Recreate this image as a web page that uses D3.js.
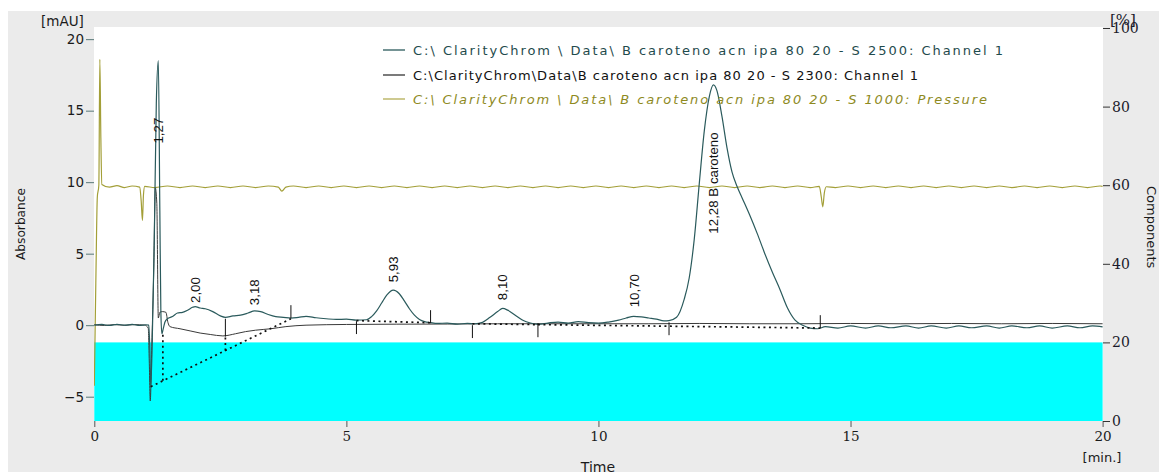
<!DOCTYPE html>
<html>
<head>
<meta charset="utf-8">
<script src="https://cdn.jsdelivr.net/npm/d3@7"></script>
<style>
  html, body { margin: 0; padding: 0; background: #ffffff; }
  svg { display: block; }
</style>
</head>
<body>
<svg id="chart" width="1159" height="472"></svg>
<script>
// ---- chromatogram data: [time (min), signal] ----
// S 2500, Channel 1 (mAU)
const ch2500 = [
  [0.00, 0.00], [0.15, 0.05], [0.30, -0.02], [0.45, 0.06], [0.60, 0.00], [0.75, 0.05],
  [0.90, -0.02], [1.02, 0.03], [1.08, 0.00], [1.10, -1.50], [1.12, -4.30], [1.15, -1.00],
  [1.19, 6.00], [1.23, 15.50], [1.27, 18.50], [1.30, 8.00], [1.32, 1.00], [1.34, -0.60],
  [1.37, -0.20], [1.40, 0.20], [1.45, 0.45], [1.55, 0.60], [1.65, 0.85], [1.75, 0.90],
  [1.85, 1.05], [1.95, 1.25], [2.00, 1.30], [2.10, 1.20], [2.20, 1.15], [2.35, 0.95],
  [2.50, 0.65], [2.60, 0.55], [2.75, 0.65], [2.90, 0.70], [3.05, 0.85], [3.18, 1.00],
  [3.30, 0.95], [3.45, 0.75], [3.60, 0.60], [3.75, 0.55], [3.90, 0.50], [4.05, 0.55],
  [4.20, 0.62], [4.40, 0.52], [4.60, 0.45], [4.80, 0.40], [5.00, 0.42], [5.20, 0.35],
  [5.40, 0.38], [5.50, 0.60], [5.60, 1.00], [5.70, 1.55], [5.80, 2.10], [5.93, 2.45],
  [6.05, 2.20], [6.15, 1.70], [6.25, 1.15], [6.35, 0.70], [6.45, 0.40], [6.55, 0.25],
  [6.67, 0.18], [6.80, 0.12], [7.00, 0.15], [7.20, 0.08], [7.40, 0.12], [7.55, 0.10],
  [7.70, 0.20], [7.85, 0.55], [8.00, 0.95], [8.10, 1.17], [8.20, 1.05], [8.35, 0.70],
  [8.50, 0.35], [8.65, 0.15], [8.80, 0.05], [9.00, 0.15], [9.20, 0.22], [9.40, 0.15],
  [9.60, 0.25], [9.80, 0.18], [10.00, 0.15], [10.20, 0.22], [10.40, 0.35], [10.55, 0.50],
  [10.70, 0.62], [10.85, 0.58], [11.00, 0.50], [11.15, 0.42], [11.30, 0.30], [11.40, 0.32],
  [11.55, 0.55], [11.70, 1.80], [11.80, 3.30], [11.90, 6.00], [12.00, 9.90], [12.10, 13.60],
  [12.20, 16.00], [12.28, 16.80], [12.35, 16.40], [12.45, 14.60], [12.55, 12.40], [12.65, 10.70],
  [12.75, 9.70], [12.85, 8.90], [13.00, 7.70], [13.15, 6.40], [13.30, 5.00], [13.45, 3.70],
  [13.60, 2.50], [13.75, 1.20], [13.90, 0.35], [14.05, 0.00], [14.20, -0.20], [14.35, -0.25],
  [14.50, -0.10], [14.75, -0.20], [15.00, -0.05], [15.30, -0.20], [15.55, -0.05], [15.80, -0.18],
  [16.10, -0.05], [16.35, -0.20], [16.60, -0.05], [16.90, -0.20], [17.15, -0.05], [17.40, -0.18],
  [17.70, -0.05], [17.95, -0.20], [18.20, -0.05], [18.50, -0.18], [18.75, -0.05], [19.00, -0.20],
  [19.30, -0.05], [19.55, -0.18], [19.80, -0.05], [20.00, -0.12]
];

// S 2300, Channel 1 (mAU)
const ch2300 = [
  [0.00, 0.03], [0.20, -0.02], [0.40, 0.04], [0.60, -0.01], [0.80, 0.04], [1.00, 0.00],
  [1.07, -0.20], [1.09, -2.50], [1.11, -5.30], [1.14, -1.50], [1.18, 4.00], [1.21, 9.60],
  [1.24, 8.50], [1.27, 0.50], [1.30, 0.90], [1.35, 0.95], [1.42, 0.90], [1.46, 0.20],
  [1.50, -0.10], [1.70, -0.25], [1.90, -0.40], [2.10, -0.55], [2.30, -0.65], [2.55, -0.75],
  [2.80, -0.60], [3.00, -0.45], [3.20, -0.35], [3.50, -0.25], [3.80, -0.10], [4.20, 0.00],
  [5.00, 0.05], [6.00, 0.07], [7.00, 0.08], [8.00, 0.10], [9.00, 0.10], [10.00, 0.10],
  [11.00, 0.10], [12.00, 0.12], [13.00, 0.10], [14.00, 0.10], [15.00, 0.12], [16.00, 0.10],
  [17.00, 0.12], [18.00, 0.10], [19.00, 0.12], [20.00, 0.10]
];

// S 1000, Pressure (%)
const pressure = [
  [0.00, 9.0], [0.03, 35.0], [0.06, 57.0], [0.09, 60.0], [0.11, 92.0], [0.13, 72.0],
  [0.15, 60.2], [0.30, 59.5], [0.45, 59.9], [0.60, 59.4], [0.75, 59.8], [0.90, 59.5],
  [0.93, 56.0], [0.955, 51.0], [0.975, 57.5], [1.00, 59.7], [1.20, 59.4], [1.45, 59.8],
  [1.70, 59.4], [1.95, 59.8], [2.20, 59.4], [2.45, 59.8], [2.70, 59.4], [2.95, 59.8],
  [3.20, 59.4], [3.45, 59.8], [3.65, 59.5], [3.72, 58.5], [3.80, 59.5], [3.95, 59.8],
  [4.20, 59.4], [4.45, 59.8], [4.70, 59.4], [4.95, 59.8], [5.20, 59.4], [5.45, 59.8],
  [5.70, 59.4], [5.95, 59.8], [6.20, 59.4], [6.45, 59.8], [6.70, 59.4], [6.95, 59.8],
  [7.20, 59.4], [7.45, 59.8], [7.70, 59.4], [7.95, 59.8], [8.20, 59.4], [8.45, 59.8],
  [8.70, 59.4], [8.95, 59.8], [9.20, 59.4], [9.45, 59.8], [9.70, 59.4], [9.95, 59.8],
  [10.20, 59.4], [10.45, 59.8], [10.70, 59.4], [10.95, 59.8], [11.20, 59.4], [11.45, 59.8],
  [11.70, 59.4], [11.95, 59.8], [12.20, 59.4], [12.45, 59.8], [12.70, 59.4], [12.95, 59.8],
  [13.20, 59.4], [13.45, 59.8], [13.70, 59.4], [13.95, 59.8], [14.20, 59.4], [14.38, 59.7],
  [14.42, 57.0], [14.45, 54.5], [14.48, 58.0], [14.52, 59.6], [14.70, 59.4], [14.95, 59.8],
  [15.20, 59.4], [15.45, 59.8], [15.70, 59.4], [15.95, 59.8], [16.20, 59.4], [16.45, 59.8],
  [16.70, 59.4], [16.95, 59.8], [17.20, 59.4], [17.45, 59.8], [17.70, 59.4], [17.95, 59.8],
  [18.20, 59.4], [18.45, 59.8], [18.70, 59.4], [18.95, 59.8], [19.20, 59.4], [19.45, 59.8],
  [19.70, 59.4], [19.95, 59.8], [20.00, 59.7]
];

// Shaded band on the components axis: time span and % span
const bandTimes = [0, 20];
const bandRange = [0, 20];

// Peak identification
const peakNames = ["1,27", "2,00", "3,18", "5,93", "8,10", "10,70", "12,28 B caroteno"];
const peakTimes = [1.27, 2.00, 3.18, 5.93, 8.10, 10.70, 12.28];
const labelLevels = [12.7, 1.55, 1.4, 3.0, 1.75, 1.25, 6.4];

// Integration baselines [[t0, v0], [t1, v1]] (mAU)
const baselines = [
  [[1.12, -4.30], [3.90, 0.45]],
  [[5.20, 0.32], [6.67, 0.17]],
  [[7.50, 0.10], [8.80, 0.04]],
  [[8.80, 0.04], [14.40, -0.20]]
];
// Drop lines [t, from, to]
const drops = [[1.36, -3.89, -0.45], [2.60, -1.77, -0.80]];
// Peak boundary marks [t, top, bottom]
const marks = [
  [2.60, 0.45, -0.80], [3.90, 1.40, 0.50], [5.20, 0.28, -0.62], [6.67, 1.05, 0.14],
  [7.50, 0.00, -0.90], [8.80, 0.14, -0.84], [11.40, 0.20, -0.70], [14.40, 0.70, -0.20]
];

// Axes
const timeTicks = [0, 5, 10, 15, 20];
const absTicks = [-5, 0, 5, 10, 15, 20];
const pctTicks = [0, 20, 40, 60, 80, 100];

// Legend
const legendNames = [
  "C:\\ ClarityChrom \\ Data\\ B caroteno acn ipa 80 20 - S 2500: Channel 1",
  "C:\\ClarityChrom\\Data\\B caroteno acn ipa 80 20 - S 2300: Channel 1",
  "C:\\ ClarityChrom \\ Data\\ B caroteno acn ipa 80 20 - S 1000: Pressure"
];

// ---- drawing ----
const W = 1159, H = 472;
const P = { left: 94, right: 1103, top: 27, bottom: 421 };
const colors = {
  page: "#ebebeb", plot: "#ffffff", band: "#00ffff",
  s2500: "#2a5a5c", s2300: "#3a3a3a", pressure: "#a39f38",
  legend: ["#1f4b4d", "#111111", "#8e8a1e"], swatch: ["#2a5a5c", "#333333", "#b3ae55"]
};

const svg = d3.select("#chart");
const x = d3.scaleLinear().domain([0, 20]).range([94.3, 1102.6]);
const yL = d3.scaleLinear().domain([-6.7, 20.85]).range([P.bottom, P.top]);
const yR = d3.scaleLinear().domain([0, 100]).range([P.bottom, 28]);

svg.append("rect").attr("x", 8).attr("y", 11).attr("width", W - 8).attr("height", H - 11)
  .attr("fill", colors.page);
svg.append("rect").attr("x", P.left).attr("y", P.top)
  .attr("width", P.right - P.left).attr("height", P.bottom - P.top).attr("fill", colors.plot);

svg.append("clipPath").attr("id", "plotclip").append("rect")
  .attr("x", P.left).attr("y", P.top).attr("width", P.right - P.left).attr("height", P.bottom - P.top);
const g = svg.append("g").attr("clip-path", "url(#plotclip)");

// band
g.append("rect")
  .attr("x", x(bandTimes[0])).attr("width", x(bandTimes[1]) - x(bandTimes[0]))
  .attr("y", yR(bandRange[1])).attr("height", yR(bandRange[0]) - yR(bandRange[1]))
  .attr("fill", colors.band);

const lineL = d3.line().x(d => x(d[0])).y(d => yL(d[1])).curve(d3.curveMonotoneX);
const lineR = d3.line().x(d => x(d[0])).y(d => yR(d[1])).curve(d3.curveMonotoneX);

g.append("path").attr("d", lineR(pressure)).attr("fill", "none")
  .attr("stroke", colors.pressure).attr("stroke-width", 1.2);
g.append("path").attr("d", lineL(ch2300)).attr("fill", "none")
  .attr("stroke", colors.s2300).attr("stroke-width", 1);
g.append("path").attr("d", lineL(ch2500)).attr("fill", "none")
  .attr("stroke", colors.s2500).attr("stroke-width", 1.2);

// integration baselines and drop lines
const straight = d3.line().x(d => x(d[0])).y(d => yL(d[1]));
baselines.forEach(b => {
  g.append("path").attr("d", straight(b)).attr("fill", "none")
    .attr("stroke", "#111").attr("stroke-width", 1.7).attr("stroke-dasharray", "2,3.5");
});
drops.forEach(d => {
  g.append("path").attr("d", straight([[d[0], d[1]], [d[0], d[2]]])).attr("fill", "none")
    .attr("stroke", "#111").attr("stroke-width", 1.7).attr("stroke-dasharray", "2,3.5");
});
marks.forEach(m => {
  g.append("path").attr("d", straight([[m[0], m[1]], [m[0], m[2]]])).attr("fill", "none")
    .attr("stroke", "#111").attr("stroke-width", 1);
});

// peak labels
peakNames.forEach((name, i) => {
  const px = x(peakTimes[i]), py = yL(labelLevels[i]);
  svg.append("text")
    .attr("transform", `translate(${px},${py}) rotate(-90)`)
    .attr("dy", "0.36em")
    .attr("font-family", "'Liberation Sans', Arial, sans-serif")
    .attr("font-size", 13.3).attr("fill", "#111")
    .text(name);
});

// axes
const axL = svg.append("g").attr("transform", `translate(${P.left},0)`)
  .call(d3.axisLeft(yL).tickValues(absTicks).tickSize(8).tickPadding(2).tickFormat(d3.format("d")));
axL.select(".domain").remove();
axL.selectAll("line").attr("stroke", "#587878");
axL.selectAll("text").attr("font-family", "'DejaVu Sans', Verdana, sans-serif")
  .attr("font-size", 13.5).attr("fill", "#1a1a1a");

const axB = svg.append("g").attr("transform", `translate(0,${P.bottom})`)
  .call(d3.axisBottom(x).tickValues(timeTicks).tickSize(6).tickPadding(4));
axB.select(".domain").remove();
axB.selectAll("line").attr("stroke", "#555");
axB.selectAll("text").attr("font-family", "'DejaVu Serif', serif")
  .attr("font-size", 13.5).attr("fill", "#1a1a1a");

const axR = svg.append("g").attr("transform", `translate(${P.right},0)`)
  .call(d3.axisRight(yR).tickValues(pctTicks).tickSize(7).tickPadding(2));
axR.select(".domain").remove();
axR.selectAll("line").attr("stroke", "#333");
axR.selectAll("text").attr("font-family", "'DejaVu Serif', serif")
  .attr("font-size", 14).attr("fill", "#1a1a2a");

// axis titles and units
const sans = "'DejaVu Sans', Verdana, sans-serif";
svg.append("text").attr("x", 41).attr("y", 26).attr("font-family", sans)
  .attr("font-size", 13.5).attr("fill", "#1a1a1a").text("[mAU]");
svg.append("text").attr("x", 1110).attr("y", 25).attr("font-family", "'DejaVu Serif', serif")
  .attr("font-size", 15).attr("fill", "#1a1a2a").text("[%]");
svg.append("text").attr("transform", "translate(25,224) rotate(-90)").attr("text-anchor", "middle")
  .attr("font-family", sans).attr("font-size", 12.5).attr("fill", "#1a1a1a")
  .attr("textLength", 72).attr("lengthAdjust", "spacingAndGlyphs").text("Absorbance");
svg.append("text").attr("transform", "translate(1147,186) rotate(90)")
  .attr("font-family", sans).attr("font-size", 13).attr("fill", "#1a1a1a").text("Components");
svg.append("text").attr("x", 598).attr("y", 472).attr("text-anchor", "middle")
  .attr("font-family", sans).attr("font-size", 14).attr("fill", "#1a1a1a").text("Time");
svg.append("text").attr("x", 1102).attr("y", 462).attr("text-anchor", "middle")
  .attr("font-family", sans).attr("font-size", 13).attr("fill", "#1a1a1a").text("[min.]");

// legend
const legendY = [50, 75, 99];
const legendLen = [590, 505, 574];
legendNames.forEach((name, i) => {
  svg.append("line").attr("x1", 383).attr("x2", 405).attr("y1", legendY[i]).attr("y2", legendY[i])
    .attr("stroke", colors.swatch[i]).attr("stroke-width", 1.3);
  svg.append("text").attr("x", 413).attr("y", legendY[i]).attr("dy", "0.35em")
    .attr("font-family", sans).attr("font-size", 13)
    .attr("font-style", i === 2 ? "italic" : "normal")
    .attr("fill", colors.legend[i])
    .attr("textLength", legendLen[i]).attr("lengthAdjust", "spacing")
    .text(name);
});
</script>
</body>
</html>
